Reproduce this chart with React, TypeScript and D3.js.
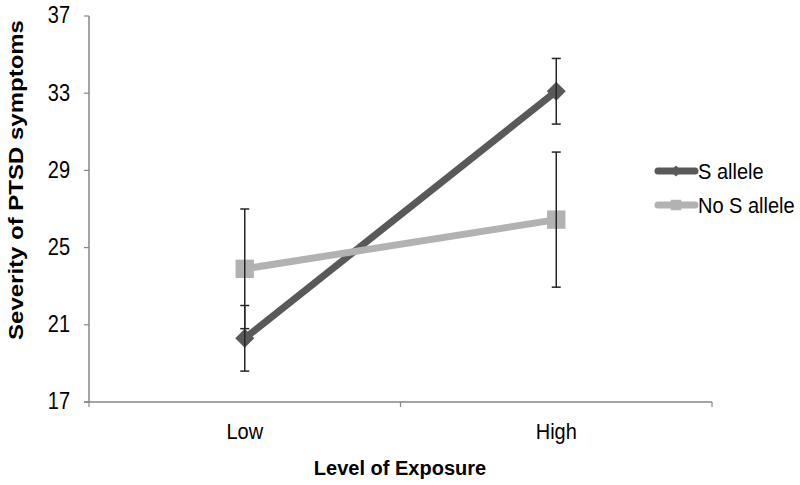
import React from 'react'
import * as d3 from 'd3'

const categories = ['Low', 'High']
const sAllele = [20.3, 33.1]
const sAlleleErr = [1.7, 1.7]
const noSAllele = [23.9, 26.45]
const noSAlleleErr = [3.1, 3.5]
const yTicks = [17, 21, 25, 29, 33, 37]

const width = 800
const height = 485
const left = 89
const right = 712
const top = 16
const bottom = 402

const font = 'Arial, "Liberation Sans", sans-serif'

const App = () => {
	const x = d3.scaleBand().domain(categories).range([left, right])
	const y = d3.scaleLinear().domain([17, 37]).range([bottom, top])
	const cx = (c: string) => (x(c) || 0) + x.bandwidth() / 2

	const line = d3
		.line<number>()
		.x((_, i) => cx(categories[i]))
		.y((d) => y(d))

	const series = [
		{ name: 'S allele', values: sAllele, err: sAlleleErr, color: '#595959', marker: 'diamond' },
		{ name: 'No S allele', values: noSAllele, err: noSAlleleErr, color: '#b2b2b2', marker: 'square' }
	]

	const diamond = d3.symbol(d3.symbolDiamond2, 230)()
	const square = d3.symbol(d3.symbolSquare2, 430)()
	const diamondSm = d3.symbol(d3.symbolDiamond2, 75)()
	const squareSm = d3.symbol(d3.symbolSquare2, 140)()

	return (
		<svg width={width} height={height} style={{ position: 'absolute', left: 0, top: 0 }}>
			<rect width={width} height={height} fill="#fff" />
			{/* axes */}
			<line x1={left} x2={left} y1={top} y2={bottom} stroke="#868686" strokeWidth={1.5} />
			<line x1={left - 5} x2={right} y1={bottom} y2={bottom} stroke="#868686" strokeWidth={1.5} />
			{yTicks.map((t) => (
				<g key={t}>
					<line x1={left - 5} x2={left} y1={y(t)} y2={y(t)} stroke="#868686" strokeWidth={1.2} />
					<text
						transform={`translate(70, ${y(t)}) scale(1, 1.15)`}
						dy="0.32em"
						textAnchor="end"
						fontFamily={font}
						fontSize={20}
						fill="#000"
					>
						{t}
					</text>
				</g>
			))}
			{[left, left + x.step(), right].map((px, i) => (
				<line key={i} x1={px} x2={px} y1={bottom} y2={bottom + 5} stroke="#868686" strokeWidth={1.2} />
			))}
			{categories.map((c) => (
				<text
					key={c}
					transform={`translate(${cx(c)}, 439) scale(1, 1.08)`}
					textAnchor="middle"
					fontFamily={font}
					fontSize={20}
					fill="#000"
				>
					{c}
				</text>
			))}
			<text x={400} y={475} textAnchor="middle" fontFamily={font} fontSize={20} fontWeight="bold" fill="#000">
				Level of Exposure
			</text>
			<text
				transform={`translate(23, 180) rotate(-90) scale(1.2, 1)`}
				textAnchor="middle"
				fontFamily={font}
				fontSize={20}
				fontWeight="bold"
				fill="#000"
			>
				Severity of PTSD symptoms
			</text>

			{/* lines */}
			{series.map((s) => (
				<path key={s.name} d={line(s.values) || ''} fill="none" stroke={s.color} strokeWidth={7} />
			))}
			{/* markers */}
			{series.map((s) =>
				s.values.map((v, i) => (
					<path
						key={s.name + i}
						d={s.marker === 'diamond' ? diamond || '' : square || ''}
						transform={`translate(${cx(categories[i])}, ${y(v)})`}
						fill={s.color}
					/>
				))
			)}
			{/* error bars */}
			{series.map((s) =>
				s.values.map((v, i) => {
					const px = cx(categories[i])
					const y1 = y(v + s.err[i])
					const y2 = y(v - s.err[i])
					return (
						<g key={'e' + s.name + i} stroke="#262626" strokeWidth={1.5}>
							<line x1={px} x2={px} y1={y1} y2={y2} />
							<line x1={px - 4.5} x2={px + 4.5} y1={y1} y2={y1} />
							<line x1={px - 4.5} x2={px + 4.5} y1={y2} y2={y2} />
						</g>
					)
				})
			)}

			{/* legend */}
			{series.map((s, i) => {
				const ly = 171 + i * 34
				return (
					<g key={'l' + s.name}>
						<line x1={658} x2={695} y1={ly} y2={ly} stroke={s.color} strokeWidth={7} strokeLinecap="round" />
						<path
							d={s.marker === 'diamond' ? diamondSm || '' : squareSm || ''}
							transform={`translate(676, ${ly})`}
							fill={s.color}
						/>
						<text
							transform={`translate(698, ${ly}) scale(1, 1.1)`}
							dy="0.36em"
							fontFamily={font}
							fontSize={20}
							fill="#000"
						>
							{s.name}
						</text>
					</g>
				)
			})}
		</svg>
	)
}

export default App
